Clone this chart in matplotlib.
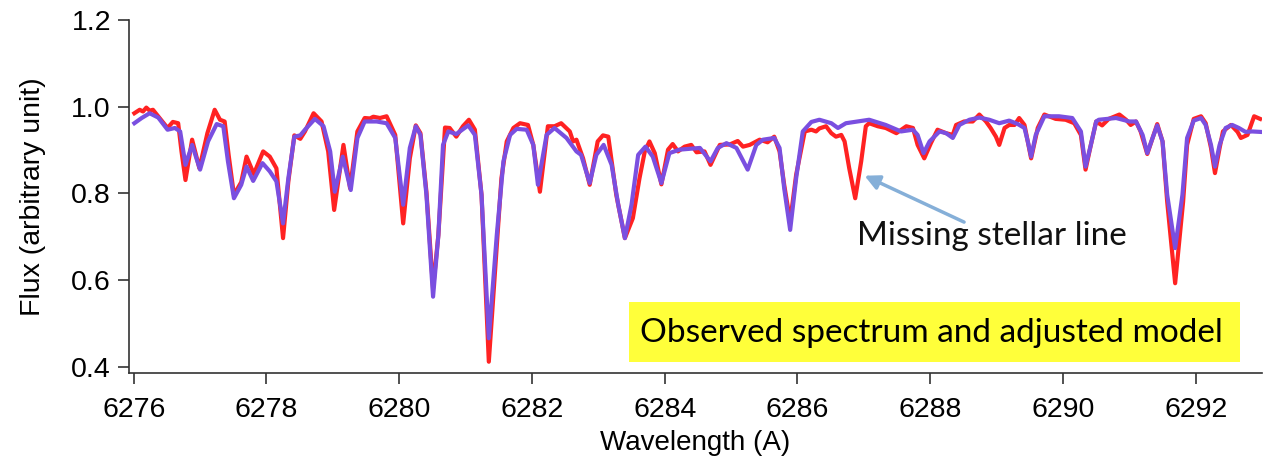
import matplotlib
matplotlib.use('Agg')
import matplotlib.pyplot as plt
from matplotlib.patches import Rectangle

"""
    observed spectrum vs adjusted model, 6276-6293 A
"""

# observed spectrum (wavelength in A, normalised flux)
obs_wave = [6276.01, 6276.09, 6276.14, 6276.19, 6276.24, 6276.29, 6276.39, 6276.51, 6276.59, 6276.67,
            6276.72, 6276.78, 6276.88, 6276.99, 6277.11, 6277.22, 6277.30, 6277.37, 6277.43, 6277.51,
            6277.62, 6277.70, 6277.81, 6277.95, 6278.05, 6278.15, 6278.25, 6278.33, 6278.42, 6278.51,
            6278.58, 6278.71, 6278.83, 6278.93, 6279.02, 6279.16, 6279.26, 6279.37, 6279.48, 6279.56,
            6279.61, 6279.71, 6279.81, 6279.94, 6280.06, 6280.16, 6280.25, 6280.32, 6280.41, 6280.51,
            6280.59, 6280.69, 6280.76, 6280.86, 6280.96, 6281.05, 6281.14, 6281.24, 6281.35, 6281.47,
            6281.54, 6281.62, 6281.72, 6281.82, 6281.94, 6282.02, 6282.12, 6282.24, 6282.34, 6282.44,
            6282.57, 6282.62, 6282.67, 6282.77, 6282.87, 6282.99, 6283.07, 6283.15, 6283.27, 6283.40,
            6283.52, 6283.62, 6283.70, 6283.77, 6283.85, 6283.95, 6284.05, 6284.12, 6284.20, 6284.30,
            6284.40, 6284.48, 6284.60, 6284.69, 6284.83, 6284.98, 6285.10, 6285.18, 6285.28, 6285.43,
            6285.55, 6285.65, 6285.73, 6285.80, 6285.89, 6285.98, 6286.11, 6286.21, 6286.28, 6286.33,
            6286.43, 6286.51, 6286.58, 6286.66, 6286.71, 6286.78, 6286.87, 6286.96, 6287.03, 6287.08,
            6287.21, 6287.33, 6287.49, 6287.64, 6287.74, 6287.81, 6287.91, 6288.01, 6288.11, 6288.24,
            6288.34, 6288.39, 6288.51, 6288.64, 6288.74, 6288.84, 6288.91, 6288.99, 6289.04, 6289.12,
            6289.19, 6289.27, 6289.34, 6289.42, 6289.47, 6289.52, 6289.62, 6289.72, 6289.89, 6290.04,
            6290.17, 6290.27, 6290.34, 6290.42, 6290.50, 6290.59, 6290.69, 6290.85, 6290.95, 6291.02,
            6291.10, 6291.17, 6291.27, 6291.35, 6291.42, 6291.50, 6291.57, 6291.69, 6291.81, 6291.87,
            6291.97, 6292.08, 6292.15, 6292.23, 6292.29, 6292.36, 6292.41, 6292.53, 6292.63, 6292.68,
            6292.78, 6292.88, 6292.97]
obs_flux = [0.985, 0.993, 0.989, 0.998, 0.991, 0.993, 0.974, 0.951, 0.965, 0.962,
            0.897, 0.831, 0.924, 0.858, 0.939, 0.993, 0.970, 0.966, 0.889, 0.797,
            0.826, 0.885, 0.845, 0.897, 0.885, 0.858, 0.697, 0.828, 0.934, 0.926,
            0.943, 0.985, 0.966, 0.897, 0.762, 0.912, 0.812, 0.943, 0.974, 0.973,
            0.977, 0.974, 0.978, 0.935, 0.731, 0.881, 0.957, 0.939, 0.804, 0.581,
            0.704, 0.952, 0.951, 0.931, 0.955, 0.970, 0.947, 0.797, 0.412, 0.681,
            0.835, 0.920, 0.951, 0.962, 0.958, 0.912, 0.804, 0.955, 0.955, 0.962,
            0.943, 0.920, 0.924, 0.881, 0.820, 0.920, 0.934, 0.931, 0.797, 0.697,
            0.743, 0.835, 0.897, 0.920, 0.893, 0.821, 0.901, 0.914, 0.897, 0.908,
            0.912, 0.895, 0.897, 0.866, 0.912, 0.913, 0.921, 0.908, 0.912, 0.924,
            0.918, 0.931, 0.897, 0.820, 0.735, 0.843, 0.943, 0.947, 0.943, 0.950,
            0.955, 0.939, 0.931, 0.935, 0.920, 0.858, 0.789, 0.874, 0.955, 0.962,
            0.955, 0.951, 0.939, 0.955, 0.951, 0.912, 0.881, 0.916, 0.947, 0.939,
            0.935, 0.958, 0.966, 0.966, 0.982, 0.966, 0.951, 0.931, 0.912, 0.951,
            0.958, 0.958, 0.974, 0.958, 0.920, 0.881, 0.951, 0.982, 0.972, 0.970,
            0.962, 0.935, 0.855, 0.912, 0.966, 0.957, 0.972, 0.982, 0.970, 0.958,
            0.966, 0.943, 0.891, 0.928, 0.960, 0.920, 0.781, 0.593, 0.781, 0.912,
            0.972, 0.978, 0.962, 0.905, 0.847, 0.905, 0.943, 0.958, 0.942, 0.928,
            0.935, 0.978, 0.972]

# adjusted synthetic model
model_wave = [6276.01, 6276.12, 6276.24, 6276.37, 6276.51, 6276.62, 6276.70, 6276.78, 6276.88, 6277.00,
              6277.12, 6277.25, 6277.35, 6277.42, 6277.51, 6277.62, 6277.70, 6277.80, 6277.94, 6278.05,
              6278.15, 6278.25, 6278.33, 6278.42, 6278.51, 6278.58, 6278.73, 6278.86, 6278.96, 6279.03,
              6279.15, 6279.27, 6279.37, 6279.48, 6279.66, 6279.81, 6279.94, 6280.06, 6280.16, 6280.25,
              6280.32, 6280.41, 6280.51, 6280.59, 6280.66, 6280.74, 6280.86, 6281.04, 6281.14, 6281.24,
              6281.35, 6281.47, 6281.57, 6281.67, 6281.77, 6281.92, 6282.02, 6282.09, 6282.22, 6282.34,
              6282.52, 6282.67, 6282.74, 6282.87, 6282.97, 6283.08, 6283.20, 6283.30, 6283.40, 6283.50,
              6283.60, 6283.71, 6283.82, 6283.95, 6284.07, 6284.22, 6284.53, 6284.69, 6284.80, 6284.93,
              6285.08, 6285.25, 6285.38, 6285.48, 6285.65, 6285.73, 6285.80, 6285.89, 6285.98, 6286.08,
              6286.21, 6286.33, 6286.51, 6286.61, 6286.73, 6287.08, 6287.33, 6287.56, 6287.74, 6287.81,
              6287.90, 6287.99, 6288.14, 6288.24, 6288.34, 6288.44, 6288.59, 6288.74, 6288.89, 6289.04,
              6289.19, 6289.32, 6289.42, 6289.47, 6289.52, 6289.59, 6289.72, 6289.94, 6290.14, 6290.27,
              6290.34, 6290.42, 6290.50, 6290.54, 6290.80, 6291.00, 6291.10, 6291.20, 6291.27, 6291.35,
              6291.42, 6291.50, 6291.57, 6291.69, 6291.80, 6291.87, 6291.97, 6292.08, 6292.15, 6292.23,
              6292.29, 6292.36, 6292.45, 6292.55, 6292.65, 6292.75, 6292.85, 6292.97]
model_flux = [0.962, 0.974, 0.985, 0.975, 0.947, 0.951, 0.943, 0.866, 0.912, 0.855,
              0.920, 0.960, 0.955, 0.874, 0.789, 0.820, 0.862, 0.829, 0.870, 0.851,
              0.828, 0.731, 0.835, 0.931, 0.934, 0.947, 0.972, 0.955, 0.897, 0.804,
              0.885, 0.808, 0.928, 0.966, 0.966, 0.962, 0.928, 0.774, 0.905, 0.955,
              0.935, 0.797, 0.562, 0.704, 0.912, 0.943, 0.937, 0.957, 0.935, 0.797,
              0.466, 0.704, 0.874, 0.935, 0.949, 0.947, 0.912, 0.820, 0.935, 0.951,
              0.928, 0.897, 0.889, 0.824, 0.889, 0.912, 0.866, 0.774, 0.697, 0.774,
              0.889, 0.908, 0.885, 0.824, 0.893, 0.901, 0.905, 0.874, 0.905, 0.916,
              0.905, 0.855, 0.912, 0.924, 0.928, 0.905, 0.812, 0.716, 0.835, 0.943,
              0.965, 0.970, 0.962, 0.951, 0.962, 0.970, 0.958, 0.943, 0.947, 0.935,
              0.893, 0.920, 0.943, 0.939, 0.928, 0.958, 0.970, 0.975, 0.970, 0.962,
              0.968, 0.960, 0.951, 0.920, 0.885, 0.935, 0.978, 0.978, 0.974, 0.943,
              0.862, 0.912, 0.966, 0.970, 0.974, 0.966, 0.966, 0.935, 0.893, 0.928,
              0.957, 0.920, 0.797, 0.674, 0.797, 0.928, 0.968, 0.974, 0.958, 0.912,
              0.862, 0.912, 0.951, 0.958, 0.951, 0.942, 0.943, 0.942]

x_ticks = [6276, 6278, 6280, 6282, 6284, 6286, 6288, 6290, 6292]
y_ticks = [0.4, 0.6, 0.8, 1.0, 1.2]

# position of the line absent from the model
missing_line = (6287.01, 0.841)
note_pos = (6288.93, 0.702)
arrow_tail = (6288.51, 0.734)

axis_font = 'Liberation Sans'
note_font = 'Lato'


def draw(ax):
    ax.plot(obs_wave, obs_flux, color='#ff2222', lw=3.0, solid_joinstyle='round', zorder=2)
    ax.plot(model_wave, model_flux, color='#7a4fe0', lw=3.0, solid_joinstyle='round', zorder=3)

    ax.set_xlim(6275.93, 6293.0)
    ax.set_ylim(0.386, 1.2)
    ax.set_xticks(x_ticks)
    ax.set_yticks(y_ticks)
    ax.set_yticklabels(['%.1f' % v for v in y_ticks])

    for s in ['top', 'right']:
        ax.spines[s].set_visible(False)
    for s in ['left', 'bottom']:
        ax.spines[s].set_color('#333333')
        ax.spines[s].set_linewidth(1.2)
    ax.tick_params(direction='out', length=8, width=1.2, color='#333333', labelsize=20.5)
    ax.tick_params(axis='x', pad=9)
    ax.tick_params(axis='y', pad=5)
    for lab in ax.get_xticklabels() + ax.get_yticklabels():
        lab.set_family(axis_font)

    ax.set_xlabel('Wavelength (A)', fontsize=20, family=axis_font, labelpad=5)
    ax.set_ylabel('Flux (arbitrary unit)', fontsize=20.5, family=axis_font, labelpad=18)

    # arrow pointing at the unfitted stellar line
    ax.annotate('', xy=missing_line, xytext=arrow_tail,
                arrowprops=dict(arrowstyle='-|>', color='#85afd8', lw=2.5,
                                mutation_scale=22, shrinkA=0, shrinkB=0))
    ax.text(note_pos[0], note_pos[1], 'Missing stellar line', fontsize=24,
            family=note_font, ha='center', va='center', color='#111111')


def main():
    fig = plt.figure(figsize=(12.64, 4.58), dpi=100)
    ax = fig.add_axes([0.1021, 0.1856, 0.8964, 0.7707])
    draw(ax)

    # caption box
    fig.patches.append(Rectangle((0.498, 0.2096), 0.483, 0.131, transform=fig.transFigure,
                                 facecolor='#ffff3a', edgecolor='none', zorder=5))
    fig.text(0.737, 0.273, 'Observed spectrum and adjusted model', fontsize=24,
             family=note_font, ha='center', va='center', zorder=6)

    fig.savefig('out.png', dpi=100)


if __name__ == '__main__':
    main()
